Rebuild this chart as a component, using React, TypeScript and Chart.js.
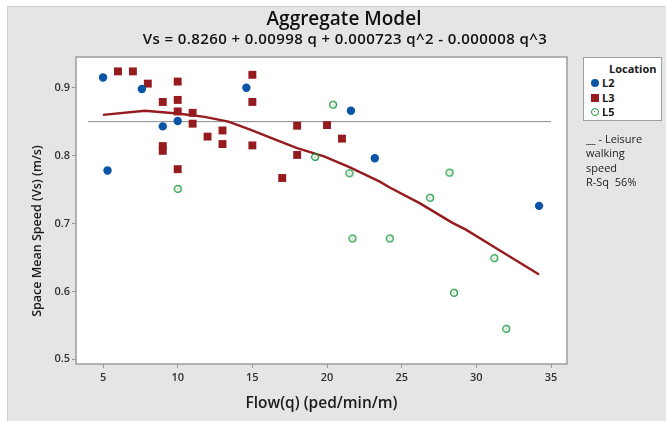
import React, { useEffect, useRef } from "react";
import { Chart, registerables } from "chart.js";

Chart.register(...registerables);

// ---- data ----
const l2Flow = [5.0, 5.3, 7.6, 9.0, 10.0, 14.6, 21.6, 23.2, 34.2];
const l2Speed = [0.915, 0.778, 0.898, 0.843, 0.851, 0.9, 0.866, 0.796, 0.726];

const l3Flow = [6, 7, 8, 10, 9, 10, 10, 11, 11, 15, 15, 13, 12, 13, 15, 9, 9, 10, 17, 18, 18, 20, 21];
const l3Speed = [
  0.924, 0.924, 0.906, 0.909, 0.879, 0.882, 0.865, 0.863, 0.847, 0.919, 0.879, 0.837, 0.828, 0.817,
  0.815, 0.814, 0.807, 0.78, 0.767, 0.844, 0.801, 0.845, 0.825,
];

const l5Flow = [10.0, 20.4, 19.2, 21.5, 28.2, 26.9, 21.7, 24.2, 31.2, 28.5, 32.0];
const l5Speed = [0.751, 0.875, 0.798, 0.774, 0.775, 0.738, 0.678, 0.678, 0.649, 0.598, 0.545];

const fitFlow = [5, 7.8, 10, 11.8, 13.4, 14.9, 16.5, 18, 19.8, 21.5, 23.5, 24.2, 26.2, 28.4, 29.3, 31.3, 34.2];
const fitSpeed = [
  0.86, 0.866, 0.862, 0.857, 0.85, 0.838, 0.824, 0.811, 0.799, 0.783, 0.762, 0.753, 0.73, 0.701, 0.691,
  0.664, 0.625,
];

const refFlow = [4, 35];
const refSpeed = [0.85, 0.85];

const xTicks = [5, 10, 15, 20, 25, 30, 35];
const yTicks = [0.5, 0.6, 0.7, 0.8, 0.9];

const seriesNames = ["L2", "L3", "L5"];
const notes = ["__ - Leisure", "walking", "speed", "R-Sq  56%"];

const FONT = '"Open Sans", "Noto Sans", sans-serif';
const BLUE = "#0a55a6";
const RED = "#961b1f";
const GREEN = "#17963a";

const pts = (xs: number[], ys: number[]) => xs.map((x, i) => ({ x, y: ys[i] }));

function makeRing(): HTMLCanvasElement {
  const c = document.createElement("canvas");
  c.width = 10;
  c.height = 10;
  const g = c.getContext("2d")!;
  g.strokeStyle = GREEN;
  g.lineWidth = 1.3;
  g.beginPath();
  g.arc(5, 5, 3.4, 0, Math.PI * 2);
  g.stroke();
  g.fillStyle = GREEN;
  g.fillRect(4.5, 4.5, 1, 1);
  return c;
}

const framePlugin = {
  id: "plotFrame",
  beforeDraw(chart: any) {
    const { ctx, chartArea } = chart;
    const { left, top, right, bottom } = chartArea;
    ctx.save();
    ctx.fillStyle = "#ffffff";
    ctx.fillRect(left, top, right - left, bottom - top);
    ctx.restore();
  },
  afterDraw(chart: any) {
    const { ctx, chartArea } = chart;
    const { left, top, right, bottom } = chartArea;
    ctx.save();
    ctx.strokeStyle = "#9d9d9d";
    ctx.lineWidth = 1.5;
    ctx.strokeRect(left, top, right - left, bottom - top);
    ctx.restore();
  },
};

export default function App() {
  const ref = useRef<HTMLCanvasElement>(null);

  useEffect(() => {
    const ring = makeRing();
    const chart = new Chart(ref.current!, {
      type: "scatter",
      data: {
        datasets: [
          {
            label: seriesNames[0],
            data: pts(l2Flow, l2Speed),
            pointStyle: "circle",
            pointRadius: 4.2,
            backgroundColor: BLUE,
            borderWidth: 0,
          },
          {
            label: seriesNames[1],
            data: pts(l3Flow, l3Speed),
            pointStyle: "rect",
            pointRadius: 5.6,
            backgroundColor: RED,
            borderWidth: 0,
          },
          {
            label: seriesNames[2],
            data: pts(l5Flow, l5Speed),
            pointStyle: ring as any,
            pointRadius: 4,
            borderWidth: 0,
          },
          {
            label: "fit",
            data: pts(fitFlow, fitSpeed),
            showLine: true,
            pointRadius: 0,
            borderColor: RED,
            borderWidth: 2.4,
            tension: 0,
          },
          {
            label: "ref",
            data: pts(refFlow, refSpeed),
            showLine: true,
            pointRadius: 0,
            borderColor: "#8a8a8a",
            borderWidth: 1,
          },
        ],
      },
      options: {
        responsive: false,
        animation: false,
        devicePixelRatio: 1,
        layout: { padding: { left: 25, right: 99, top: 57, bottom: 7 } },
        plugins: { legend: { display: false }, tooltip: { enabled: false } },
        scales: {
          x: {
            type: "linear",
            min: 3.19,
            max: 36.07,
            afterBuildTicks: (s: any) => {
              s.ticks = xTicks.map((v) => ({ value: v }));
            },
            afterFit: (s: any) => {
              s.height = 50;
            },
            grid: { display: true, drawOnChartArea: false, drawTicks: true, tickLength: 4, color: "#9a9a9a" },
            border: { display: false },
            ticks: {
              padding: 3,
              color: "#303030",
              font: { family: FONT, size: 11, weight: "600" },
              callback: (v: any) => String(v),
            },
            title: {
              display: true,
              text: "Flow(q) (ped/min/m)",
              color: "#1a1a1a",
              font: { family: FONT, size: 15.5, weight: "600" },
              padding: { top: 0, bottom: 1 },
            },
          },
          y: {
            type: "linear",
            min: 0.4931,
            max: 0.9452,
            afterBuildTicks: (s: any) => {
              s.ticks = yTicks.map((v) => ({ value: v }));
            },
            afterFit: (s: any) => {
              s.width = 51;
            },
            grid: { display: true, drawOnChartArea: false, drawTicks: true, tickLength: 4, color: "#9a9a9a" },
            border: { display: false },
            ticks: {
              padding: 2,
              color: "#303030",
              font: { family: FONT, size: 11, weight: "600" },
              callback: (v: any) => Number(v).toFixed(1),
            },
            title: { display: false },
          },
        },
      },
      plugins: [framePlugin],
    });
    return () => chart.destroy();
  }, []);

  const abs = (s: React.CSSProperties): React.CSSProperties => ({ position: "absolute", ...s });

  return (
    <div
      style={abs({
        left: 0,
        top: 0,
        width: 666,
        height: 421,
        background: "#ffffff",
        overflow: "hidden",
        fontFamily: FONT,
      })}
    >
      <div
        style={abs({
          left: 7,
          top: 6,
          right: 0,
          bottom: 0,
          background: "#e5e5e5",
          borderLeft: "1px solid #d0d0d0",
          borderTop: "1px solid #d0d0d0",
        })}
      />
      <canvas ref={ref} width={666} height={421} style={abs({ left: 0, top: 0, width: 666, height: 421 })} />

      <div
        style={abs({
          left: 144,
          width: 400,
          top: 9,
          textAlign: "center",
          fontSize: 19,
          lineHeight: 1,
          fontWeight: 600,
          color: "#111",
          whiteSpace: "nowrap",
        })}
      >
        Aggregate Model
      </div>
      <div
        style={abs({
          left: 95,
          width: 500,
          top: 31,
          textAlign: "center",
          fontSize: 15,
          letterSpacing: 0.4,
          lineHeight: 1,
          fontWeight: 600,
          color: "#111",
          whiteSpace: "nowrap",
        })}
      >
        Vs = 0.8260 + 0.00998 q + 0.000723 q^2 - 0.000008 q^3
      </div>

      <div
        style={abs({
          left: 37 - 120,
          top: 231 - 10,
          width: 240,
          height: 20,
          lineHeight: "20px",
          textAlign: "center",
          fontSize: 12.5,
          fontWeight: 600,
          color: "#1a1a1a",
          transform: "rotate(-90deg)",
          whiteSpace: "nowrap",
        })}
      >
        Space Mean Speed (Vs) (m/s)
      </div>

      <div
        style={abs({
          left: 583,
          top: 57,
          width: 79,
          height: 64,
          background: "#fff",
          border: "1px solid #a0a0a0",
          boxSizing: "border-box",
        })}
      >
        <div
          style={abs({ left: 25, top: 4, fontSize: 11, fontWeight: 700, lineHeight: "14px", color: "#1a1a1a" })}
        >
          Location
        </div>
        {seriesNames.map((n, i) => (
          <div key={n} style={abs({ left: 0, top: 18 + i * 14.5, width: 78, height: 14 })}>
            {i === 0 && (
              <div style={abs({ left: 7, top: 3, width: 8, height: 8, borderRadius: "50%", background: BLUE })} />
            )}
            {i === 1 && <div style={abs({ left: 7, top: 3, width: 8, height: 8, background: RED })} />}
            {i === 2 && (
              <div
                style={abs({
                  left: 7,
                  top: 3,
                  width: 8,
                  height: 8,
                  borderRadius: "50%",
                  border: `1.3px solid ${GREEN}`,
                  boxSizing: "border-box",
                })}
              >
                <div style={abs({ left: 2.2, top: 2.2, width: 1, height: 1, background: GREEN })} />
              </div>
            )}
            <div
              style={abs({ left: 18, top: 0, fontSize: 11, fontWeight: 700, lineHeight: "14px", color: "#1a1a1a" })}
            >
              {n}
            </div>
          </div>
        ))}
      </div>

      <div style={abs({ left: 586, top: 132, fontSize: 11, lineHeight: "14.3px", color: "#222", whiteSpace: "pre" })}>
        {notes.map((t) => (
          <div key={t}>{t}</div>
        ))}
      </div>
    </div>
  );
}
